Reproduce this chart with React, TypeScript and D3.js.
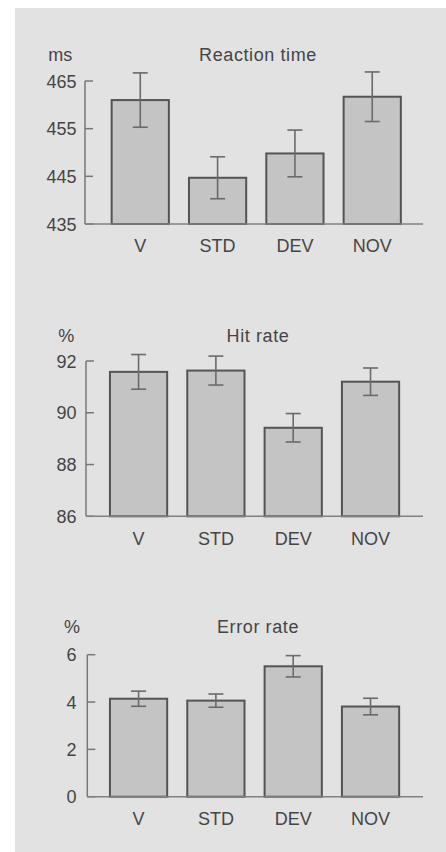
import React from "react";
import * as d3 from "d3";

const categories = ["V", "STD", "DEV", "NOV"];

const rtTitle = "Reaction time";
const rtUnit = "ms";
const rtValues = [461.0, 444.7, 449.8, 461.7];
const rtErrors = [5.7, 4.4, 4.9, 5.2];
const rtTicks = [435, 445, 455, 465];

const hitTitle = "Hit rate";
const hitUnit = "%";
const hitValues = [91.58, 91.63, 89.42, 91.2];
const hitErrors = [0.67, 0.56, 0.55, 0.53];
const hitTicks = [86, 88, 90, 92];

const errTitle = "Error rate";
const errUnit = "%";
const errValues = [4.14, 4.06, 5.51, 3.81];
const errErrors = [0.32, 0.28, 0.45, 0.35];
const errTicks = [0, 2, 4, 6];

const FONT = "'Liberation Sans', Arial, sans-serif";
const TEXT = "#454545";

type PanelProps = {
  title: string;
  unit: string;
  values: number[];
  errors: number[];
  ticks: number[];
  yTop: number;
  yBottom: number;
  axisX: number;
  bandStart: number;
  unitX: number;
  titleY: number;
  labelY: number;
};

function Panel(p: PanelProps) {
  const y = d3
    .scaleLinear()
    .domain([p.ticks[0], p.ticks[p.ticks.length - 1]])
    .range([p.yBottom, p.yTop]);
  const x = d3
    .scaleBand<string>()
    .domain(categories)
    .range([p.bandStart, p.bandStart + 309.3])
    .paddingInner(0.26)
    .paddingOuter(0.13);
  const bw = x.bandwidth();
  const capW = 15;
  return (
    <g>
      <text x={p.unitX} y={p.titleY} fontSize={18} fill={TEXT} fontFamily={FONT}>
        {p.unit}
      </text>
      <text x={258} y={p.titleY} fontSize={18} fill={TEXT} fontFamily={FONT} textAnchor="middle" letterSpacing={0.6}>
        {p.title}
      </text>
      {/* y axis */}
      <line x1={p.axisX} x2={p.axisX} y1={y(p.ticks[p.ticks.length - 1])} y2={y(p.ticks[0])} stroke="#777" strokeWidth={1.5} />
      {p.ticks.map((t) => (
        <g key={t}>
          <line x1={p.axisX} x2={p.axisX + 8} y1={y(t)} y2={y(t)} stroke="#777" strokeWidth={1.5} />
          <text x={76.5} y={y(t) + 6.5} fontSize={18} fill={TEXT} fontFamily={FONT} textAnchor="end">
            {t}
          </text>
        </g>
      ))}
      {/* bars */}
      {categories.map((c, i) => (
        <rect
          key={c}
          x={x(c)!}
          y={y(p.values[i])}
          width={bw}
          height={y(p.ticks[0]) - y(p.values[i])}
          fill="#c4c4c4"
          stroke="#545454"
          strokeWidth={2}
        />
      ))}
      {/* baseline */}
      <line x1={p.axisX} x2={423} y1={y(p.ticks[0])} y2={y(p.ticks[0])} stroke="#808080" strokeWidth={1.5} />
      {/* error bars */}
      {categories.map((c, i) => {
        const cx = x(c)! + bw / 2;
        const hi = y(p.values[i] + p.errors[i]);
        const lo = y(p.values[i] - p.errors[i]);
        return (
          <g key={c} stroke="#6a6a6a" strokeWidth={1.6}>
            <line x1={cx} x2={cx} y1={hi} y2={lo} />
            <line x1={cx - capW / 2} x2={cx + capW / 2} y1={hi} y2={hi} />
            <line x1={cx - capW / 2} x2={cx + capW / 2} y1={lo} y2={lo} />
          </g>
        );
      })}
      {categories.map((c) => (
        <text key={c} x={x(c)! + bw / 2} y={p.labelY} fontSize={18} fill={TEXT} fontFamily={FONT} textAnchor="middle">
          {c}
        </text>
      ))}
    </g>
  );
}

export default function App() {
  return (
    <svg width={446} height={852} style={{ position: "absolute", left: 0, top: 0, display: "block" }}>
      <rect x={15} y={8} width={431} height={844} fill="#e2e2e2" />
      <Panel
        title={rtTitle}
        unit={rtUnit}
        values={rtValues}
        errors={rtErrors}
        ticks={rtTicks}
        yTop={81}
        yBottom={224}
        axisX={85}
        bandStart={101.6}
        unitX={48.3}
        titleY={60.7}
        labelY={252}
      />
      <Panel
        title={hitTitle}
        unit={hitUnit}
        values={hitValues}
        errors={hitErrors}
        ticks={hitTicks}
        yTop={361}
        yBottom={516.3}
        axisX={86}
        bandStart={99.9}
        unitX={58.3}
        titleY={341.7}
        labelY={545}
      />
      <Panel
        title={errTitle}
        unit={errUnit}
        values={errValues}
        errors={errErrors}
        ticks={errTicks}
        yTop={654.7}
        yBottom={796.7}
        axisX={87.3}
        bandStart={99.9}
        unitX={64}
        titleY={633.3}
        labelY={825}
      />
    </svg>
  );
}
